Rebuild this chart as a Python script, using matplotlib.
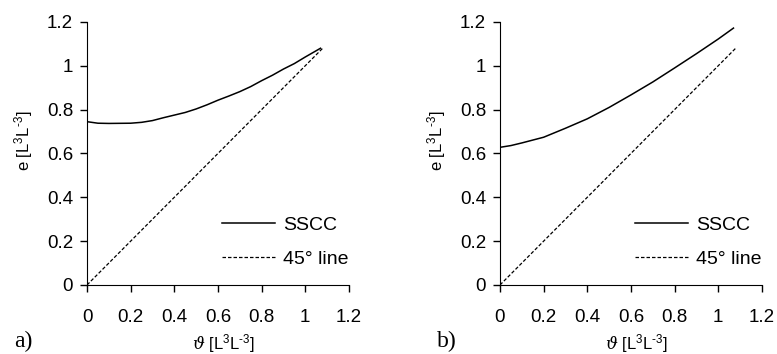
import matplotlib
matplotlib.use("Agg")
import matplotlib.pyplot as plt

# water content theta and effective e
theta_a = [0.0, 0.05, 0.1, 0.2, 0.25, 0.3, 0.35, 0.4, 0.45, 0.5, 0.55, 0.6,
           0.65, 0.7, 0.75, 0.8, 0.85, 0.9, 0.95, 1.0, 1.07]
sscc_a = [0.745, 0.738, 0.737, 0.738, 0.742, 0.75, 0.763, 0.775, 0.787, 0.803,
          0.822, 0.843, 0.862, 0.882, 0.905, 0.932, 0.957, 0.985, 1.01, 1.04, 1.08]

theta_b = [0.0, 0.05, 0.1, 0.2, 0.3, 0.4, 0.5, 0.6, 0.7, 0.8, 0.9, 1.0, 1.07]
sscc_b = [0.628, 0.636, 0.648, 0.674, 0.715, 0.758, 0.81, 0.867, 0.926, 0.99,
          1.055, 1.122, 1.172]

line45_x = [0.0, 1.08]
line45_y = [0.0, 1.08]

ticks = [0, 0.2, 0.4, 0.6, 0.8, 1, 1.2]
tick_labels = ["0", "0.2", "0.4", "0.6", "0.8", "1", "1.2"]

plt.rcParams['font.family'] = ['Liberation Sans', 'DejaVu Sans']
plt.rcParams['mathtext.fontset'] = 'custom'
plt.rcParams['mathtext.rm'] = 'Liberation Sans'
plt.rcParams['mathtext.it'] = 'DejaVu Serif:italic'

fig = plt.figure(figsize=(7.77, 3.54), dpi=100)
ax_a = fig.add_axes([0.112, 0.195, 0.337, 0.743])
ax_b = fig.add_axes([0.6435, 0.195, 0.337, 0.743])

for ax, th, e in [(ax_a, theta_a, sscc_a), (ax_b, theta_b, sscc_b)]:
    ax.plot(th, e, color="black", lw=1.1, label="SSCC")
    ax.plot(line45_x, line45_y, color="black", lw=0.9, ls=(0, (2.8, 1.6)), label="45° line")
    ax.set_xlim(0, 1.2)
    ax.set_ylim(0, 1.2)
    ax.set_xticks(ticks)
    ax.set_xticklabels(tick_labels)
    ax.set_yticks(ticks)
    ax.set_yticklabels(tick_labels)
    ax.spines["top"].set_visible(False)
    ax.spines["right"].set_visible(False)
    ax.tick_params(direction="out", length=5, width=1, labelsize=13.5, pad=5)
    ax.tick_params(axis="x", pad=12)
    ax.set_ylabel(r"e [L$^{3}$L$^{\text{-}3}$]", fontsize=12)
    ax.yaxis.set_label_coords(-0.2, 0.548)
    ax.set_xlabel(r"$\vartheta$ [L$^{3}$L$^{\text{-}3}$]", fontsize=12)
    ax.xaxis.set_label_coords(0.52, -0.18)
    ax.legend(loc="upper left", frameon=False, fontsize=14, handlelength=2.73,
              handletextpad=0.41, labelspacing=0.86, borderpad=0, borderaxespad=0,
              bbox_to_anchor=(0.515, 0.262))

fig.text(0.018, 0.02, "a)", family="Liberation Serif", fontsize=17)
fig.text(0.562, 0.02, "b)", family="Liberation Serif", fontsize=17)

fig.savefig("out.png", dpi=100)
